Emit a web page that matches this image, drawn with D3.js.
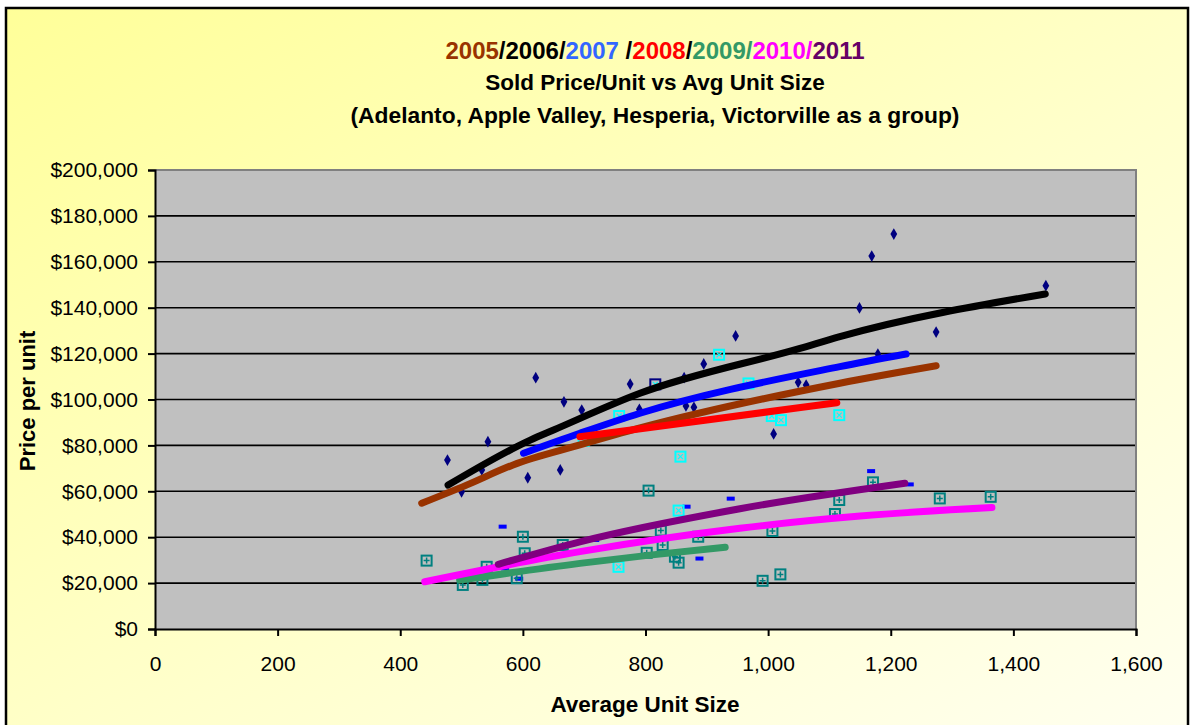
<!DOCTYPE html>
<html><head><meta charset="utf-8">
<script src="https://cdn.jsdelivr.net/npm/d3@7"></script>
<style>
html,body{margin:0;padding:0;background:#fff;}
svg{display:block;font-family:"Liberation Sans",Arial,sans-serif;}
</style></head>
<body><svg id="c" width="1190" height="725"></svg>
<script>
// ---- data (Average Unit Size, Price per unit) ----
const years = ["2005","2006","2007","2008","2009","2010","2011"];
const titleColors = ["#993300","#000000","#3366ff","#ff0000","#339966","#ff00ff","#660066"];
const trend2005 = [[435,54800],[508,62700],[584,71500],[693,80200],[791,87600],[1117,107100],[1274,114700]];
const trend2006 = [[478,62700],[612,82300],[650,86700],[791,102700],[1052,122300],[1117,127400],[1452,146000]];
const trend2007 = [[601,76600],[693,85300],[791,94000],[1117,114300],[1225,119800]];
const trend2008 = [[693,83800],[900,91100],[1112,98600]];
const trend2009 = [[497,21300],[693,28600],[807,32200],[930,35600]];
const trend2010 = [[440,20600],[693,33700],[954,43900],[1150,49200],[1365,52900]];
const trend2011 = [[560,28200],[693,38000],[954,52400],[1223,63500]];
const trendColors = ["#993300","#000000","#0000ff","#ff0000","#339966","#ff00ff","#800080"];

const navyDots = [[477,73600],[543,81600],[533,69300],[500,59800],[608,65900],[661,69300],[621,109500],[667,99000],[696,95400],[775,106700],[790,95700],[863,109500],[895,115500],[947,127700],[866,97200],[879,96600],[1009,85000],[1049,107500],[1062,106300],[1205,172100],[1169,162500],[1149,139900],[1274,129400],[1453,149600],[1179,119800]];
const cyanSquares = [[920,119500],[968,107000],[757,92800],[699,82000],[857,75100],[854,51600],[1006,92800],[1021,91000],[1116,93200],[756,27100]];
const navySquares = [[816,106600]];
const tealSquares = [[443,29800],[600,40200],[502,19200],[534,21400],[603,33000],[590,22100],[541,27100],[665,36600],[805,60300],[825,42900],[886,40200],[828,36600],[802,33200],[848,31500],[854,28900],[1171,63900],[1116,56200],[1109,50100],[1280,56900],[1363,57600],[1007,42700],[991,21000],[1020,23800]];
const blueDashes = [[567,44600],[571,26400],[594,21900],[867,53300],[939,56800],[888,30700],[1168,68800],[1231,63000],[718,38800]];

const xTicks = [0,200,400,600,800,1000,1200,1400,1600];
const yTicks = [0,20000,40000,60000,80000,100000,120000,140000,160000,180000,200000];
const titleLine2 = "Sold Price/Unit vs Avg Unit Size";
const titleLine3 = "(Adelanto, Apple Valley, Hesperia, Victorville as a group)";
const xLabel = "Average Unit Size";
const yLabel = "Price per unit";

// ---- drawing ----
const svg = d3.select("#c");
const defs = svg.append("defs");
const g = defs.append("linearGradient").attr("id","bg").attr("x1","0").attr("y1","0").attr("x2","1").attr("y2","1");
g.append("stop").attr("offset","0").attr("stop-color","#ffff99");
g.append("stop").attr("offset","0.55").attr("stop-color","#ffffcc");
g.append("stop").attr("offset","1").attr("stop-color","#fffff0");

svg.append("rect").attr("x",6).attr("y",8).attr("width",1182).attr("height",730)
  .attr("fill","url(#bg)").attr("stroke","#000").attr("stroke-width",2.5);

const x = d3.scaleLinear().domain([0,1600]).range([155,1136]);
const y = d3.scaleLinear().domain([0,200000]).range([629,170]);

// plot area
svg.append("rect").attr("x",x(0)).attr("y",y(200000)).attr("width",x(1600)-x(0)).attr("height",y(0)-y(200000)).attr("fill","#c0c0c0");
svg.append("g").selectAll("line").data(yTicks.filter(v=>v>0 && v<200000)).join("line")
  .attr("x1",x(0)).attr("x2",x(1600)).attr("y1",d=>y(d)).attr("y2",d=>y(d))
  .attr("stroke","#000").attr("stroke-width",1.6);
svg.append("path").attr("d",`M${x(0)},${y(200000)}H${x(1600)}V${y(0)}`).attr("fill","none").attr("stroke","#808080").attr("stroke-width",2);

// axes
const fmt = d3.format(",");
const yAxis = svg.append("g").attr("transform",`translate(${x(0)},0)`)
  .call(d3.axisLeft(y).tickValues(yTicks).tickSize(7).tickPadding(10).tickFormat(d=>"$"+fmt(d)));
const xAxis = svg.append("g").attr("transform",`translate(0,${y(0)})`)
  .call(d3.axisBottom(x).tickValues(xTicks).tickSize(7).tickFormat(d=>fmt(d)));
[yAxis,xAxis].forEach(a=>{
  a.select(".domain").attr("stroke","#000").attr("stroke-width",2);
  a.selectAll(".tick line").attr("stroke","#000").attr("stroke-width",2);
  a.selectAll("text").attr("fill","#000").attr("font-size",21).attr("font-family","Liberation Sans, Arial, sans-serif");
});
xAxis.selectAll("text").attr("dy",null).attr("y",42);

// markers
const mk = svg.append("g");
mk.selectAll(".nd").data(navyDots).join("path")
  .attr("d",d3.symbol(d3.symbolDiamond,40))
  .attr("transform",d=>`translate(${x(d[0])},${y(d[1])})`).attr("fill","#000080");
mk.selectAll(".bd").data(blueDashes).join("rect")
  .attr("x",d=>x(d[0])-4).attr("y",d=>y(d[1])-2).attr("width",8).attr("height",4).attr("fill","#0000ff");
function squares(data, stroke, cross){
  const s = mk.append("g").selectAll("g").data(data).join("g")
    .attr("transform",d=>`translate(${x(d[0])},${y(d[1])})`);
  s.append("rect").attr("x",-5).attr("y",-5).attr("width",10).attr("height",10)
    .attr("fill","none").attr("stroke",stroke).attr("stroke-width",2);
  if(cross==="plus"){
    s.append("path").attr("d","M-3,0H3M0,-3V3").attr("stroke",stroke).attr("stroke-width",1.5);
  } else {
    s.append("path").attr("d","M-2.5,-2.5L2.5,2.5M2.5,-2.5L-2.5,2.5").attr("stroke",cross).attr("stroke-width",1.2);
  }
}
squares(tealSquares,"#008080","plus");
squares(cyanSquares,"#00ffff","#00ffff");
squares(navySquares,"#000080","#00ffff");

// trend lines
const trends = [trend2005,trend2006,trend2007,trend2008,trend2009,trend2010,trend2011];
const line = d3.line().x(d=>x(d[0])).y(d=>y(d[1])).curve(d3.curveMonotoneX);
svg.append("g").selectAll("path").data(trends).join("path")
  .attr("d",line).attr("fill","none").attr("stroke",(d,i)=>trendColors[i])
  .attr("stroke-width",7).attr("stroke-linecap","round").attr("stroke-linejoin","round");

// titles
const cx = 655;
const t1 = svg.append("text").attr("x",cx).attr("y",59).attr("text-anchor","middle")
  .attr("font-size",24).attr("font-weight","bold");
years.forEach((yr,i)=>{
  t1.append("tspan").attr("fill",titleColors[i]).text(yr);
  if(i<years.length-1){
    t1.append("tspan").attr("fill",i===4?"#339966":(i===5?"#ff00ff":"#000")).text(i===2?" /":"/");
  }
});
svg.append("text").attr("x",cx).attr("y",90).attr("text-anchor","middle").attr("font-size",22.5).attr("font-weight","bold").text(titleLine2);
svg.append("text").attr("x",cx).attr("y",123).attr("text-anchor","middle").attr("font-size",22.8).attr("font-weight","bold").text(titleLine3);
svg.append("text").attr("x",645).attr("y",712).attr("text-anchor","middle").attr("font-size",22.5).attr("font-weight","bold").text(xLabel);
svg.append("text").attr("transform","translate(35,401) rotate(-90)").attr("text-anchor","middle").attr("font-size",22).attr("font-weight","bold").text(yLabel);
</script></body></html>
